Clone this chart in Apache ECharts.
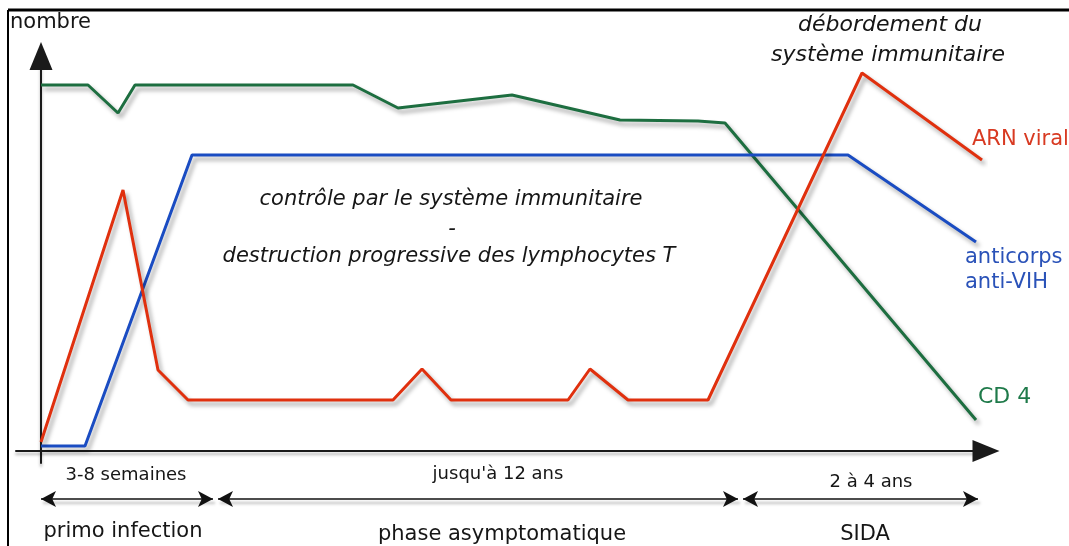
<!DOCTYPE html>
<html>
<head>
<meta charset="utf-8">
<script src="https://cdn.jsdelivr.net/npm/echarts@6/dist/echarts.min.js"></script>
<style>
  html, body { margin: 0; padding: 0; background: #fff; }
  #chart { width: 1069px; height: 546px; }
</style>
</head>
<body>
<div id="chart"></div>
<script>
const cd4X = [0, 4.7, 7.7, 9.4, 31.2, 35.7, 47.1, 57.9, 65.7, 68.4, 93.5]
const cd4Y = [36.6, 36.6, 33.8, 36.6, 36.6, 34.3, 35.6, 33.1, 33.0, 32.8, 3.1]

const anticorpsX = [0, 4.4, 15.1, 80.7, 93.5]
const anticorpsY = [0.5, 0.5, 29.6, 29.6, 20.9]

const arnX = [0, 8.2, 11.7, 14.7, 35.2, 38.1, 41.0, 52.7, 54.9, 58.7, 66.7, 82.1, 94.1]
const arnY = [0.9, 26.1, 8.1, 5.1, 5.1, 8.2, 5.1, 5.1, 8.2, 5.1, 5.1, 37.8, 29.1]

// phases de l'infection
const phaseDebut = [0, 17.7, 70.2]
const phaseFin = [17.2, 69.7, 93.7]
const phaseDuree = ['3-8 semaines', "jusqu'à 12 ans", '2 à 4 ans']
const phaseNom = ['primo infection', 'phase asymptomatique', 'SIDA']

const FONT = '"DejaVu Sans", Verdana, sans-serif'
const shadow = {
    shadowColor: 'rgba(0,0,0,0.35)',
    shadowBlur: 4,
    shadowOffsetX: 3,
    shadowOffsetY: 4
}

const pairs = (xs, ys) => xs.map((x, i) => [x, ys[i]])

function texte(text, x, y, opts) {
    return {
        type: 'text',
        silent: true,
        style: Object.assign({
            text: text,
            x: x,
            y: y,
            fill: '#161616',
            font: '21px ' + FONT,
            textAlign: 'center',
            textVerticalAlign: 'middle',
            shadowColor: 'rgba(0,0,0,0.3)',
            shadowBlur: 3,
            shadowOffsetX: 2,
            shadowOffsetY: 4
        }, opts || {})
    }
}

const chart = echarts.init(document.getElementById('chart'))

const axeNoir = {
    color: '#1a1a1a',
    width: 2,
    shadowColor: 'rgba(0,0,0,0.3)',
    shadowBlur: 3,
    shadowOffsetY: 3
}

chart.setOption({
    animation: false,
    backgroundColor: '#fff',
    grid: [
        { left: 16, right: 83, top: 56, bottom: 83 },
        { left: 16, right: 83, top: 463, bottom: 0 }
    ],
    xAxis: [
        {
            type: 'value', gridIndex: 0, min: -2.5, max: 94.5,
            axisLine: { onZero: true, symbol: ['none', 'triangle'], symbolSize: [22, 27], lineStyle: axeNoir },
            axisTick: { show: false }, axisLabel: { show: false }, splitLine: { show: false }
        },
        { type: 'value', gridIndex: 1, min: -2.5, max: 94.5, show: false }
    ],
    yAxis: [
        {
            type: 'value', gridIndex: 0, min: -1.2, max: 39.5,
            axisLine: { show: true, onZero: true, symbol: ['none', 'triangle'], symbolSize: [23, 28], lineStyle: axeNoir },
            axisTick: { show: false }, axisLabel: { show: false }, splitLine: { show: false }
        },
        { type: 'value', gridIndex: 1, min: 0, max: 83, inverse: true, show: false }
    ],
    series: [
        {
            name: 'CD 4', type: 'line', symbol: 'none',
            data: pairs(cd4X, cd4Y),
            lineStyle: Object.assign({ color: '#1d6e40', width: 3 }, shadow)
        },
        {
            name: 'anticorps anti-VIH', type: 'line', symbol: 'none',
            data: pairs(anticorpsX, anticorpsY),
            lineStyle: Object.assign({ color: '#1a4cc2', width: 3 }, shadow)
        },
        {
            name: 'ARN viral', type: 'line', symbol: 'none',
            data: pairs(arnX, arnY),
            lineStyle: Object.assign({ color: '#e0300e', width: 3 }, shadow)
        },
        {
            name: 'phases', type: 'line', xAxisIndex: 1, yAxisIndex: 1, data: [],
            markLine: {
                silent: true,
                symbol: ['arrow', 'arrow'],
                symbolSize: [12, 15],
                label: { show: false },
                lineStyle: Object.assign({ color: '#111', width: 1.5, type: 'solid' }, shadow, { shadowBlur: 3, shadowOffsetX: 2, shadowOffsetY: 4 }),
                data: phaseDebut.map((d, i) => [{ coord: [d, 36] }, { coord: [phaseFin[i], 36] }])
            }
        }
    ],
    graphic: [
        { type: 'line', silent: true, shape: { x1: 8, y1: 10, x2: 1069, y2: 10 }, style: { stroke: '#000', lineWidth: 3 } },
        { type: 'line', silent: true, shape: { x1: 8, y1: 10, x2: 8, y2: 546 }, style: { stroke: '#000', lineWidth: 2 } },

        texte('nombre', 10, 23, { textAlign: 'left', font: '21px ' + FONT }),

        texte('contrôle par le système immunitaire', 451, 200, { font: 'italic 21px ' + FONT }),
        texte('-', 452, 230, { font: 'italic 21px ' + FONT }),
        texte('destruction progressive des lymphocytes T', 449, 257, { font: 'italic 21px ' + FONT }),

        texte('débordement du', 890, 25, { font: 'italic 22px ' + FONT }),
        texte('système immunitaire', 888, 55, { font: 'italic 22px ' + FONT }),

        texte('ARN viral', 972, 140, { textAlign: 'left', fill: '#d83a22' }),
        texte('anticorps', 965, 258, { textAlign: 'left', fill: '#2a52b8' }),
        texte('anti-VIH', 965, 283, { textAlign: 'left', fill: '#2a52b8' }),
        texte('CD 4', 978, 397, { textAlign: 'left', fill: '#1f7a4a', font: '22px ' + FONT }),

        texte(phaseDuree[0], 126, 475, { font: '18px ' + FONT }),
        texte(phaseDuree[1], 498, 474, { font: '18px ' + FONT }),
        texte(phaseDuree[2], 871, 482, { font: '18px ' + FONT }),
        texte(phaseNom[0], 123, 532, { font: '21px ' + FONT }),
        texte(phaseNom[1], 502, 535, { font: '21px ' + FONT }),
        texte(phaseNom[2], 865, 535, { font: '21px ' + FONT })
    ]
})
</script>
</body>
</html>
